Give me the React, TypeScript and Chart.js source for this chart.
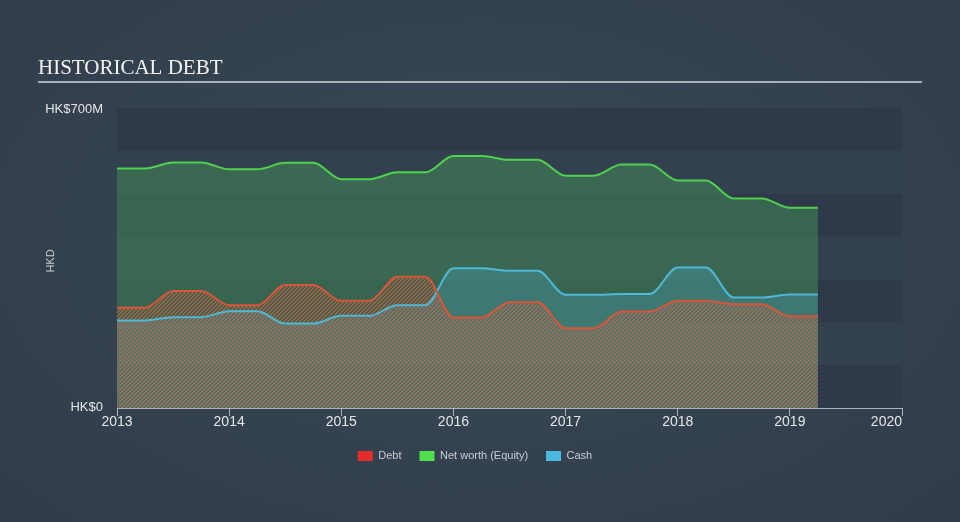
import React, { useEffect, useRef } from 'react';
import { Chart, registerables } from 'chart.js';

Chart.register(...registerables);

// ---- data ----
const dates = [
  2013, 2013.25, 2013.5, 2013.75, 2014, 2014.25, 2014.5, 2014.75,
  2015, 2015.25, 2015.5, 2015.75, 2016, 2016.25, 2016.5, 2016.75,
  2017, 2017.25, 2017.5, 2017.75, 2018, 2018.25, 2018.5, 2018.75,
  2019, 2019.25,
];
const debt = [
  234, 234, 273, 273, 240, 240, 287, 287,
  250, 250, 306, 306, 211, 211, 247, 247,
  186, 186, 225, 225, 250, 250, 242, 242,
  214, 214,
];
const equity = [
  559, 559, 573, 573, 557, 557, 572, 572,
  534, 534, 550, 550, 588, 588, 579, 579,
  542, 542, 568, 568, 531, 531, 489, 489,
  467, 467,
];
const cash = [
  204, 204, 212, 212, 226, 226, 197, 197,
  215, 215, 240, 240, 326, 326, 320, 320,
  264, 264, 266, 266, 328, 328, 258, 258,
  265, 265,
];
const xTickYears = [2013, 2014, 2015, 2016, 2017, 2018, 2019, 2020];
const yTickValues = [0, 700];
const yTickLabels = ['HK$0', 'HK$700M'];
const seriesNames = ['Debt', 'Net worth (Equity)', 'Cash'];
const titleText = 'HISTORICAL DEBT';
const yAxisTitle = 'HKD';

// ---- style ----
const SANS = "'Liberation Sans', Arial, Helvetica, sans-serif";
const SERIF = "'Liberation Serif', 'Times New Roman', serif";
const legendColors = ['#e52d2d', '#50e050', '#4bb9dc'];
const lineColors = ['#d9553a', '#4fd24c', '#4db8d8'];

function makeHatch(): CanvasPattern | string {
  const c = document.createElement('canvas');
  c.width = 4;
  c.height = 4;
  const g = c.getContext('2d');
  if (!g) return 'rgba(226,88,58,0.3)';
  const img = g.createImageData(4, 4);
  for (let y = 0; y < 4; y++) {
    for (let x = 0; x < 4; x++) {
      const i = (y * 4 + x) * 4;
      if ((x + y) % 4 < 2) {
        img.data[i] = 228;
        img.data[i + 1] = 92;
        img.data[i + 2] = 62;
        img.data[i + 3] = 165;
      }
    }
  }
  g.putImageData(img, 0, 0);
  return g.createPattern(c, 'repeat') || 'rgba(226,88,58,0.3)';
}

const decorPlugin = {
  id: 'decor',
  beforeDraw(chart: any) {
    const { ctx, chartArea } = chart;
    const y = chart.scales.y;
    ctx.save();
    for (let k = 0; k < 7; k++) {
      const top = y.getPixelForValue((k + 1) * 100);
      const bot = y.getPixelForValue(k * 100);
      ctx.fillStyle = k % 2 === 0 ? '#2e3a49' : '#334050';
      ctx.fillRect(chartArea.left, top, chartArea.right - chartArea.left, bot - top);
    }
    ctx.restore();
  },
  afterDraw(chart: any) {
    const { ctx, chartArea } = chart;
    const xs = chart.scales.x;
    const ys = chart.scales.y;
    ctx.save();
    // title
    ctx.fillStyle = '#f2f2f2';
    ctx.font = `21px ${SERIF}`;
    ctx.textAlign = 'left';
    ctx.textBaseline = 'alphabetic';
    ctx.fillText(titleText, 38, 74);
    ctx.fillStyle = '#aab0b7';
    ctx.fillRect(38, 81, 884, 2);

    // x tick labels
    ctx.fillStyle = '#e4e6e8';
    ctx.font = `14px ${SANS}`;
    ctx.textBaseline = 'middle';
    xTickYears.forEach((yr, i) => {
      const px = xs.getPixelForValue(yr);
      ctx.textAlign = i === xTickYears.length - 1 ? 'right' : 'center';
      ctx.fillText(String(yr), px, 422);
    });

    // y tick labels
    ctx.font = `13px ${SANS}`;
    ctx.textAlign = 'right';
    yTickValues.forEach((v, i) => {
      const py = ys.getPixelForValue(v);
      ctx.fillText(yTickLabels[i], chartArea.left - 14, py + (i === 0 ? -1 : 1));
    });

    // y axis title
    ctx.font = `11px ${SANS}`;
    ctx.fillStyle = '#c9cdd2';
    ctx.translate(51, 261);
    ctx.rotate(-Math.PI / 2);
    ctx.textAlign = 'center';
    ctx.fillText(yAxisTitle, 0, 0);
    ctx.restore();
  },
};

export default function App() {
  const ref = useRef<HTMLCanvasElement | null>(null);

  useEffect(() => {
    if (!ref.current) return;
    const hatch = makeHatch();
    const pts = (vals: number[]) => dates.map((d, i) => ({ x: d, y: vals[i] }));
    const chart = new Chart(ref.current, {
      type: 'line',
      data: {
        datasets: [
          {
            label: seriesNames[0],
            data: pts(debt),
            borderColor: lineColors[0],
            backgroundColor: hatch as any,
            borderWidth: 2,
            fill: 'origin',
            order: 0,
          },
          {
            label: seriesNames[1],
            data: pts(equity),
            borderColor: lineColors[1],
            backgroundColor: 'rgba(66,137,86,0.55)',
            borderWidth: 2,
            fill: 'origin',
            order: 2,
          },
          {
            label: seriesNames[2],
            data: pts(cash),
            borderColor: lineColors[2],
            backgroundColor: 'rgba(75,185,215,0.25)',
            borderWidth: 2,
            fill: 'origin',
            order: 1,
          },
        ],
      },
      options: {
        animation: false,
        responsive: false,
        maintainAspectRatio: false,
        devicePixelRatio: 1,
        events: [],
        elements: {
          point: { radius: 0 },
          line: { cubicInterpolationMode: 'monotone' },
        },
        layout: { padding: { left: 48, right: 58, top: 108, bottom: 50.5 } },
        scales: {
          x: {
            type: 'linear',
            min: 2013,
            max: 2020,
            ticks: { display: false, stepSize: 1 },
            grid: {
              display: true,
              drawOnChartArea: false,
              drawTicks: true,
              tickLength: 8,
              color: '#a8b4c2',
              lineWidth: 1,
            },
            border: { display: true, color: '#a8b4c2', width: 1 },
            afterFit: (s: any) => {
              s.height = 24.5;
            },
          },
          y: {
            type: 'linear',
            min: 0,
            max: 700,
            ticks: { display: false, stepSize: 100 },
            grid: { display: false, drawTicks: false },
            border: { display: false },
            afterFit: (s: any) => {
              s.width = 69;
            },
          },
        },
        plugins: {
          tooltip: { enabled: false },
          title: { display: false },
          filler: { drawTime: 'beforeDatasetsDraw' },
          legend: {
            display: true,
            position: 'bottom',
            labels: {
              boxWidth: 15,
              boxHeight: 10,
              padding: 18,
              color: '#c9cdd2',
              font: { family: SANS, size: 11 },
              generateLabels: (c: any) =>
                c.data.datasets.map((ds: any, i: number) => ({
                  text: ds.label,
                  fillStyle: legendColors[i],
                  strokeStyle: legendColors[i],
                  lineWidth: 0,
                  hidden: false,
                  datasetIndex: i,
                  fontColor: '#c9cdd2',
                })),
            },
          },
        },
      } as any,
      plugins: [decorPlugin],
    });
    return () => chart.destroy();
  }, []);

  return (
    <div
      style={{
        position: 'fixed',
        left: 0,
        top: 0,
        width: 960,
        height: 522,
        background: 'radial-gradient(ellipse at 50% 45%, #3a4a5c 0%, #34414f 55%, #303c4a 100%)',
      }}
    >
      <canvas ref={ref} width={960} height={522} style={{ display: 'block', width: 960, height: 522 }} />
    </div>
  );
}
